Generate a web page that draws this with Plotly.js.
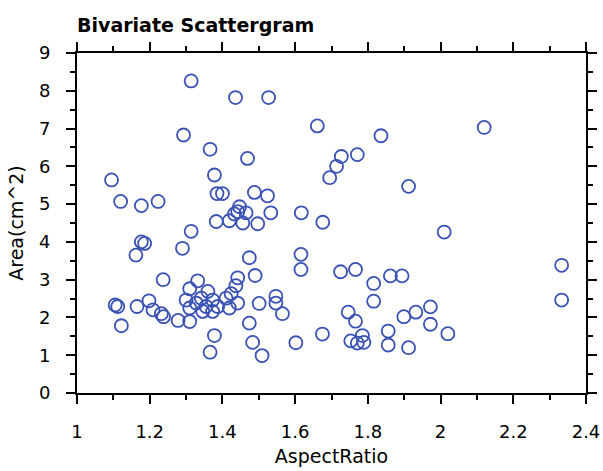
<!DOCTYPE html>
<html>
<head>
<meta charset="utf-8">
<script src="https://cdn.plot.ly/plotly-3.0.1.min.js"></script>
<style>html,body{margin:0;padding:0;background:#fff;} #chart{width:603px;height:471px;}</style>
</head>
<body>
<div id="chart"></div>
<script>
const aspectRatio = [
  1.314, 1.436, 1.527, 1.661, 2.12, 1.293, 1.836, 1.366, 1.771, 1.727,
  1.469, 1.714, 1.378, 1.695, 1.095, 1.912, 1.488, 1.385, 1.40, 1.524,
  1.12, 1.223, 1.177, 1.447, 1.442, 1.433, 1.465, 1.533, 1.617, 1.383,
  1.419, 1.456, 1.497, 1.676, 1.314, 2.01, 1.177, 1.186, 1.29, 1.616,
  1.162, 1.474, 2.333, 1.616, 1.766, 1.725, 1.49, 1.862, 1.894, 1.442,
  1.237, 1.332, 1.816, 1.437, 1.31, 1.36, 1.424, 1.547, 1.342, 1.41,
  1.30, 1.373, 1.198, 2.333, 1.816, 1.328, 1.442, 1.501, 1.547, 1.105,
  1.112, 1.165, 1.31, 1.355, 1.387, 1.419, 1.972, 1.209, 1.346, 1.373,
  1.746, 1.932, 1.565, 1.232, 1.899, 1.238, 1.278, 1.31, 1.766, 1.474,
  1.972, 1.122, 1.856, 1.378, 1.675, 2.02, 1.785, 1.753, 1.771, 1.789,
  1.483, 1.602, 1.856, 1.912, 1.366, 1.509
];
const area = [
  8.26, 7.82, 7.82, 7.07, 7.03, 6.83, 6.81, 6.45, 6.31, 6.26,
  6.21, 6.00, 5.77, 5.70, 5.64, 5.47, 5.31, 5.28, 5.28, 5.22,
  5.07, 5.07, 4.96, 4.93, 4.80, 4.74, 4.77, 4.77, 4.77, 4.54,
  4.56, 4.50, 4.48, 4.52, 4.28, 4.26, 4.00, 3.96, 3.83, 3.67,
  3.65, 3.58, 3.38, 3.27, 3.27, 3.21, 3.11, 3.10, 3.10, 3.05,
  3.00, 2.97, 2.90, 2.84, 2.76, 2.69, 2.63, 2.56, 2.51, 2.51,
  2.46, 2.46, 2.44, 2.46, 2.43, 2.38, 2.38, 2.37, 2.38, 2.33,
  2.29, 2.29, 2.25, 2.29, 2.29, 2.25, 2.28, 2.20, 2.16, 2.16,
  2.14, 2.14, 2.10, 2.10, 2.02, 2.02, 1.92, 1.89, 1.90, 1.85,
  1.82, 1.78, 1.64, 1.52, 1.56, 1.57, 1.52, 1.38, 1.32, 1.34,
  1.34, 1.33, 1.27, 1.20, 1.08, 0.99
];
const xTickVals = [1, 1.2, 1.4, 1.6, 1.8, 2, 2.2, 2.4];
const xTickText = ['1', '1.2', '1.4', '1.6', '1.8', '2', '2.2', '2.4'];
const yTickVals = [0, 1, 2, 3, 4, 5, 6, 7, 8, 9];
const yTickText = ['0', '1', '2', '3', '4', '5', '6', '7', '8', '9'];

const trace = {
  x: aspectRatio, y: area, type: 'scatter', mode: 'markers',
  marker: {symbol: 'circle-open', size: 13, color: '#3a52b4', line: {width: 1.8, color: '#3a52b4'}},
  hoverinfo: 'x+y'
};

const axisCommon = {
  showgrid: false, zeroline: false, showline: true, linecolor: '#000', linewidth: 2,
  mirror: 'allticks', ticks: 'outside', ticklen: 9, tickwidth: 2, tickcolor: '#000',
  ticklabeloverflow: 'allow',
  tickfont: {family: 'DejaVu Sans, sans-serif', size: 18, color: '#000'}
};

const layout = {
  width: 603, height: 471,
  margin: {l: 77, r: 17, t: 53, b: 78},
  paper_bgcolor: '#fff', plot_bgcolor: '#fff',
  showlegend: false,
  title: {text: '<b>Bivariate Scattergram</b>', x: 0, xanchor: 'left', xref: 'paper',
          y: 1 - 25/471, yanchor: 'middle',
          font: {family: 'DejaVu Sans, sans-serif', size: 19, color: '#000'}},
  xaxis: Object.assign({}, axisCommon, {
    range: [1, 2.4], tickmode: 'array', tickvals: xTickVals, ticktext: xTickText,
    ticklabelstandoff: 12,
    minor: {dtick: 0.1, ticks: 'outside', ticklen: 5, tickwidth: 2, tickcolor: '#000', showgrid: false},
    title: {text: 'AspectRatio', standoff: 9, font: {family: 'DejaVu Sans, sans-serif', size: 19, color: '#000'}}
  }),
  yaxis: Object.assign({}, axisCommon, {
    range: [0, 9], tickmode: 'array', tickvals: yTickVals, ticktext: yTickText,
    ticklabelstandoff: 12,
    minor: {dtick: 0.5, ticks: 'outside', ticklen: 5, tickwidth: 2, tickcolor: '#000', showgrid: false},
    title: {text: 'Area(cm^2)', standoff: 10, font: {family: 'DejaVu Sans, sans-serif', size: 19, color: '#000'}}
  })
};

Plotly.newPlot('chart', [trace], layout, {displayModeBar: false, staticPlot: true});
</script>
</body>
</html>
